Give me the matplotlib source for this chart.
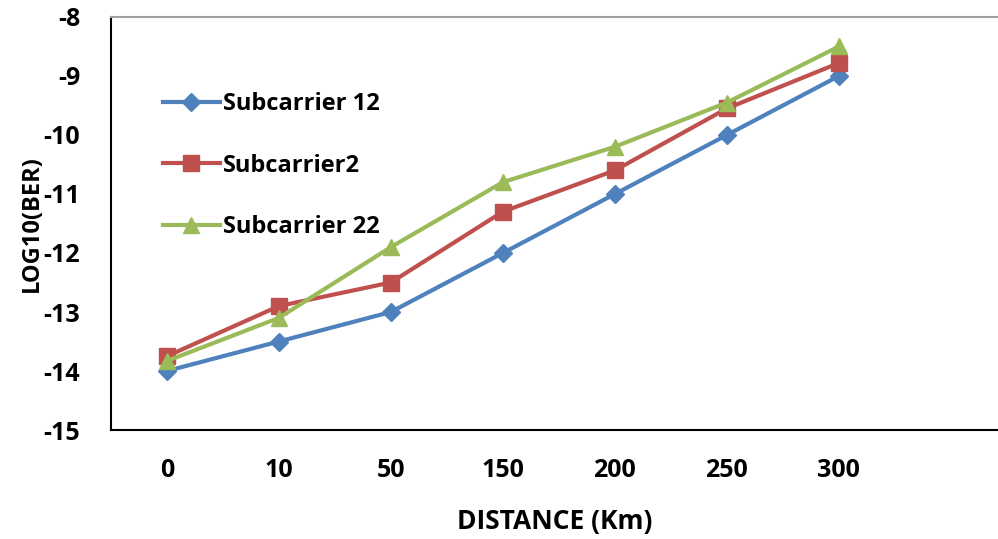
import matplotlib
matplotlib.use("Agg")
import matplotlib.pyplot as plt

categories = ["0", "10", "50", "150", "200", "250", "300"]
sub12 = [-14.0, -13.5, -13.0, -12.0, -11.0, -10.0, -9.0]
sub2 = [-13.75, -12.9, -12.5, -11.3, -10.6, -9.55, -8.78]
sub22 = [-13.83, -13.1, -11.9, -10.8, -10.2, -9.45, -8.5]
yticks = [-15, -14, -13, -12, -11, -10, -9, -8]

plt.rcParams['font.family'] = ['Open Sans', 'DejaVu Sans']
fig = plt.figure(figsize=(9.98, 5.39), dpi=100)
ax = fig.add_axes([0.111, 0.2022, 0.889, 0.7663])
x = list(range(len(categories)))
ax.plot(x, sub12, color='#4F81BD', lw=3, marker='D', ms=9, label='Subcarrier 12')
ax.plot(x, sub2, color='#C0504D', lw=3, marker='s', ms=11, label='Subcarrier2')
ax.plot(x, sub22, color='#9BBB59', lw=3, marker='^', ms=12, label='Subcarrier 22')

ax.set_xlim(-0.5, 7.42)
ax.set_ylim(-15, -8)
ax.set_yticks(yticks)
ax.set_yticklabels([str(v) for v in yticks])
ax.set_xticks(x)
ax.set_xticklabels(categories)
ax.tick_params(length=0, labelsize=18)
for lab in ax.get_xticklabels() + ax.get_yticklabels():
    lab.set_fontweight('bold')
ax.tick_params(axis='x', pad=20)
ax.tick_params(axis='y', pad=22)
ax.spines['right'].set_visible(False)
ax.spines['top'].set_color('#A0A0A0')
ax.spines['top'].set_linewidth(1.5)
ax.spines['left'].set_linewidth(1.5)
ax.spines['bottom'].set_linewidth(1.5)
ax.set_xlabel('DISTANCE (Km)', fontsize=19, fontweight='bold', labelpad=18)
ax.set_ylabel('LOG10(BER)', fontsize=17, fontweight='bold', labelpad=0)
ax.legend(loc='upper left', bbox_to_anchor=(0.035, 0.87), frameon=False,
          prop={'size': 17, 'weight': 'bold'}, labelspacing=1.6,
          handlelength=2.4, handletextpad=0.15)
fig.savefig('out.png', dpi=100)
